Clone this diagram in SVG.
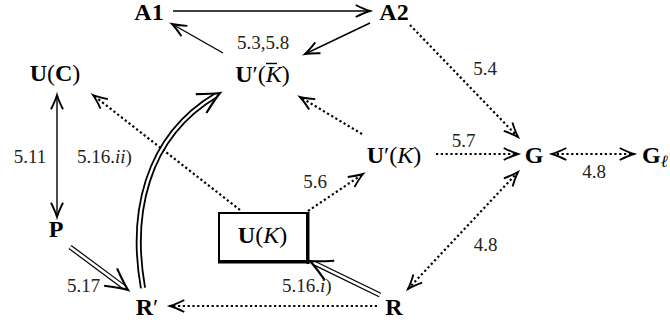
<svg xmlns="http://www.w3.org/2000/svg" width="670" height="324" viewBox="0 0 670 324" font-family="'Liberation Serif', 'Times New Roman', Times, 'DejaVu Serif', serif">
<style>
.n{font-family:'Liberation Serif','Times New Roman',Times,'DejaVu Serif',serif;font-size:24px;fill:#000}
.b{font-weight:bold}
.i{font-style:italic}
.l{font-family:'Liberation Serif','Times New Roman',Times,'DejaVu Serif',serif;font-size:19px;fill:#222}
.s{fill:none;stroke:#000;stroke-width:1.4}
.d{fill:none;stroke:#000;stroke-width:2.2;stroke-dasharray:2.2 2.6}
.dbo{fill:none;stroke:#000;stroke-width:5}
.dbi{fill:none;stroke:#fff;stroke-width:2.6}
.h{fill:none;stroke:none}
</style>
<defs>
<marker id="ah" markerUnits="userSpaceOnUse" orient="auto" refX="0" refY="0" markerWidth="20" markerHeight="20" viewBox="-12 -6 14 12" overflow="visible">
<path d="M-10,-4.2 Q-4,-1.2 0,0 Q-4,1.2 -10,4.2" fill="none" stroke="#000" stroke-width="1.3"/>
</marker>
<marker id="ahs" markerUnits="userSpaceOnUse" orient="auto-start-reverse" refX="0" refY="0" markerWidth="20" markerHeight="20" viewBox="-12 -6 14 12" overflow="visible">
<path d="M-10,-4.2 Q-4,-1.2 0,0 Q-4,1.2 -10,4.2" fill="none" stroke="#000" stroke-width="1.3"/>
</marker>
<marker id="ah2" markerUnits="userSpaceOnUse" orient="auto" refX="0" refY="0" markerWidth="30" markerHeight="30" viewBox="-16 -9 18 18" overflow="visible">
<path d="M-13,-6.5 Q-5,-2 0,0 Q-5,2 -13,6.5" fill="none" stroke="#000" stroke-width="1.3"/>
</marker>
</defs>

<g id="connectors">
<path class="s" d="M173,11 L370,11" marker-end="url(#ah)"/>
<path class="s" d="M223,53 L172,24" marker-end="url(#ah)"/>
<path class="s" d="M370,23 L305,54" marker-end="url(#ah)"/>
<path class="d" d="M410,25 L518,137" marker-end="url(#ah)"/>
<path class="d" d="M436,154 L518,154" marker-end="url(#ah)"/>
<path class="d" d="M552,154 L634,154" marker-start="url(#ahs)" marker-end="url(#ahs)"/>
<path class="d" d="M362,134 L300,97" marker-end="url(#ah)"/>
<path class="d" d="M240,210 L93,95" marker-end="url(#ah)"/>
<path class="d" d="M308,211 L363,174" marker-end="url(#ah)"/>
<path class="d" d="M518,172 L408,289" marker-start="url(#ahs)" marker-end="url(#ahs)"/>
<path class="d" d="M377,306 L170,306" marker-end="url(#ah)"/>
<path class="s" d="M57,95 L57,217" marker-start="url(#ahs)" marker-end="url(#ahs)"/>
<path class="dbo" d="M70,247 L128,290" pathLength="100" stroke-dasharray="94.5 200"/>
<path class="dbi" d="M70,247 L128,290" pathLength="100" stroke-dasharray="94.5 200"/>
<path class="h" d="M70,247 L128,290" marker-end="url(#ah2)"/>
<path class="dbo" d="M380,295 L310,261" pathLength="100" stroke-dasharray="95 200"/>
<path class="dbi" d="M380,295 L310,261" pathLength="100" stroke-dasharray="95 200"/>
<path class="h" d="M380,295 L310,261" marker-end="url(#ah2)"/>
<path class="dbo" style="stroke-width:6" d="M143,288 C130,215 145,135 220,93" pathLength="100" stroke-dasharray="98 200"/>
<path class="dbi" style="stroke-width:2.4" d="M143,288 C130,215 145,135 220,93" pathLength="100" stroke-dasharray="98 200"/>
<path class="h" d="M143,288 C130,215 145,135 220,93" marker-end="url(#ah2)"/>
</g>

<g id="labels">
<text class="l" x="263" y="49" text-anchor="middle">5.3,5.8</text>
<text class="l" x="485" y="75" text-anchor="middle">5.4</text>
<text class="l" x="463.5" y="147" text-anchor="middle">5.7</text>
<text class="l" x="594" y="178" text-anchor="middle">4.8</text>
<text class="l" x="30" y="163" text-anchor="middle">5.11</text>
<text class="l" x="77" y="163">5.16.<tspan class="i">ii</tspan>)</text>
<text class="l" x="315" y="188" text-anchor="middle">5.6</text>
<text class="l" x="83.5" y="292" text-anchor="middle">5.17</text>
<text class="l" x="282" y="292">5.16.<tspan class="i">i</tspan>)</text>
<text class="l" x="485.5" y="251" text-anchor="middle">4.8</text>
</g>

<g id="A1"><text class="n b" x="149" y="20" text-anchor="middle">A1</text></g>
<g id="A2"><text class="n b" x="394" y="20" text-anchor="middle">A2</text></g>
<g id="UC"><text class="n" x="55" y="81" text-anchor="middle"><tspan class="b">U</tspan>(<tspan class="b">C</tspan>)</text></g>
<g id="UpKbar"><text class="n" x="262.5" y="82" text-anchor="middle"><tspan class="b">U</tspan>′(<tspan class="i">K</tspan>)</text>
<line x1="266" y1="63.5" x2="277" y2="63.5" stroke="#000" stroke-width="1.4"/></g>
<g id="UpK"><text class="n" x="394" y="163" text-anchor="middle"><tspan class="b">U</tspan>′(<tspan class="i">K</tspan>)</text></g>
<g id="G"><text class="n b" x="534" y="163" text-anchor="middle">G</text></g>
<g id="Gl"><text class="n" x="642" y="163"><tspan class="b">G</tspan><tspan class="i" font-size="17" dy="4">ℓ</tspan></text></g>
<g id="P"><text class="n b" x="56" y="237" text-anchor="middle">P</text></g>
<g id="Rp"><text class="n" x="147" y="315" text-anchor="middle"><tspan class="b">R</tspan>′</text></g>
<g id="R"><text class="n b" x="394" y="315" text-anchor="middle">R</text></g>
<g id="UK">
<rect x="219" y="213" width="88" height="48" fill="none" stroke="#000" stroke-width="2"/>
<line x1="308" y1="212" x2="308" y2="264" stroke="#000" stroke-width="3"/>
<line x1="218" y1="262" x2="309.5" y2="262" stroke="#000" stroke-width="3"/>
<text class="n" x="262.5" y="243" text-anchor="middle"><tspan class="b">U</tspan>(<tspan class="i">K</tspan>)</text>
</g>
</svg>
